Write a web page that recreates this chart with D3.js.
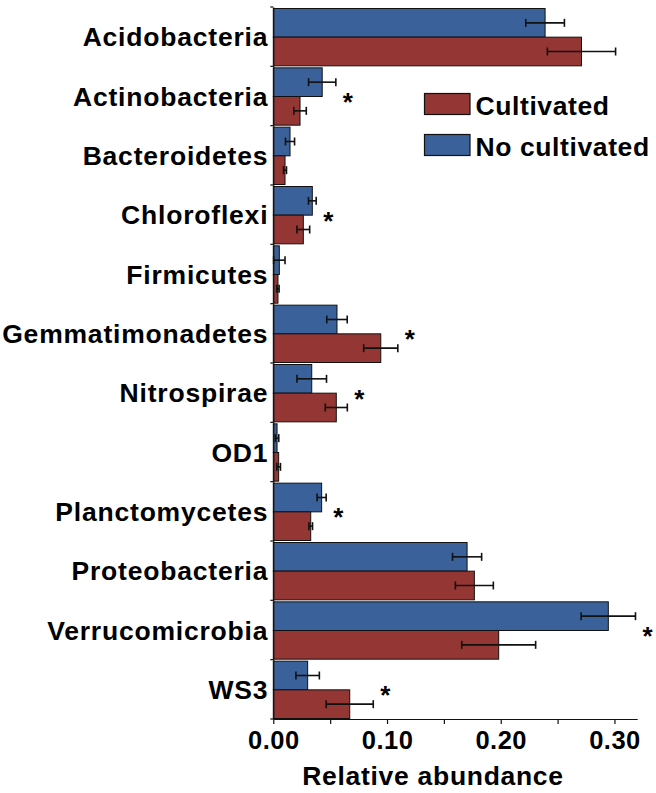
<!DOCTYPE html>
<html><head><meta charset="utf-8">
<script src="https://cdn.jsdelivr.net/npm/d3@7"></script>
<style>body{margin:0;background:#fff;} text{font-family:"Liberation Sans",Arial,sans-serif;font-weight:bold;}</style>
</head><body>
<svg id="chart" width="656" height="793"></svg>
<script>
const categories = ["Acidobacteria","Actinobacteria","Bacteroidetes","Chloroflexi","Firmicutes","Gemmatimonadetes","Nitrospirae","OD1","Planctomycetes","Proteobacteria","Verrucomicrobia","WS3"];
const noCultivated = [0.239,0.043,0.0147,0.0343,0.0053,0.056,0.0338,0.0033,0.0425,0.1704,0.2946,0.0302];
const noCultivatedErr = [0.017,0.012,0.004,0.0034,0.005,0.009,0.013,0.0015,0.004,0.0128,0.0239,0.0103];
const cultivated = [0.271,0.0235,0.0103,0.0264,0.0041,0.0945,0.0554,0.0047,0.0329,0.1768,0.1982,0.0672];
const cultivatedErr = [0.030,0.0055,0.0013,0.0056,0.001,0.015,0.0097,0.0016,0.0016,0.0167,0.0325,0.0207];
const significant = [false,true,false,true,false,true,true,false,true,false,true,true];
const tickValues = [0,0.05,0.10,0.15,0.20,0.25,0.30];
const tickLabels = ["0.00","","0.10","","0.20","","0.30"];
const seriesNames = ["Cultivated","No cultivated"];
const colors = {"No cultivated":"#3b619a","Cultivated":"#943634"};

const svg = d3.select("#chart");
const x = d3.scaleLinear().domain([0,0.32]).range([273.3, 637.2]);
const y = d3.scaleBand().domain(categories).range([7,719]).paddingInner(0).paddingOuter(0);
const sub = d3.scaleBand().domain(["No cultivated","Cultivated"]).range([1.5, y.bandwidth()-0.5]);

const rows = categories.map((c,i)=>({c,i,series:[
  {k:"No cultivated",v:noCultivated[i],e:noCultivatedErr[i]},
  {k:"Cultivated",v:cultivated[i],e:cultivatedErr[i]}]}));

const g = svg.append("g");
const grp = g.selectAll("g.cat").data(rows).join("g").attr("transform",d=>`translate(0,${y(d.c)})`);
grp.selectAll("rect").data(d=>d.series).join("rect")
  .attr("x",x(0)).attr("y",d=>sub(d.k)).attr("width",d=>x(d.v)-x(0)).attr("height",sub.bandwidth())
  .attr("fill",d=>colors[d.k]).attr("stroke","#111").attr("stroke-width",1);
// error bars
const eb = grp.selectAll("g.eb").data(d=>d.series).join("g").attr("class","eb")
  .attr("stroke","#111").attr("stroke-width",1.6);
eb.append("line").attr("x1",d=>x(d.v-d.e)).attr("x2",d=>x(d.v+d.e))
  .attr("y1",d=>sub(d.k)+sub.bandwidth()/2).attr("y2",d=>sub(d.k)+sub.bandwidth()/2);
eb.append("line").attr("x1",d=>x(d.v-d.e)).attr("x2",d=>x(d.v-d.e))
  .attr("y1",d=>sub(d.k)+sub.bandwidth()/2-4).attr("y2",d=>sub(d.k)+sub.bandwidth()/2+4);
eb.append("line").attr("x1",d=>x(d.v+d.e)).attr("x2",d=>x(d.v+d.e))
  .attr("y1",d=>sub(d.k)+sub.bandwidth()/2-4).attr("y2",d=>sub(d.k)+sub.bandwidth()/2+4);
// significance
grp.filter(d=>significant[d.i]).append("text")
  .attr("x",d=>x(Math.max(...d.series.map(s=>s.v+s.e)))+7)
  .attr("y",y.bandwidth()/2+15).attr("font-size",26).attr("fill","#000").text("*");

// y axis
const yAxis = d3.axisLeft(y).tickSize(0).tickPadding(5);
const ya = svg.append("g").attr("transform",`translate(${x(0)},0)`).call(yAxis);
ya.select(".domain").attr("stroke","#111").attr("stroke-width",1.2);
ya.selectAll("text").attr("font-size",26.5).attr("letter-spacing","0.8px").attr("font-family","'Liberation Sans',Arial,sans-serif").attr("font-weight","bold").attr("fill","#000").attr("dy","0.36em");
svg.append("g").selectAll("line").data(d3.range(categories.length+1)).join("line")
  .attr("x1",x(0)-3).attr("x2",x(0)).attr("y1",i=>7+i*y.step()).attr("y2",i=>7+i*y.step())
  .attr("stroke","#111").attr("stroke-width",1.2);

// x axis
const xAxis = d3.axisBottom(x).tickValues(tickValues).tickFormat((d,i)=>tickLabels[i]).tickSize(5).tickSizeOuter(0).tickPadding(7);
const xa = svg.append("g").attr("transform","translate(0,719)").call(xAxis);
xa.select(".domain").attr("stroke","#111").attr("stroke-width",1.2);
xa.selectAll(".tick line").attr("stroke","#111").attr("stroke-width",1.2);
xa.selectAll("text").attr("font-size",25.5).attr("letter-spacing","0.5px").attr("font-family","'Liberation Sans',Arial,sans-serif").attr("font-weight","bold").attr("fill","#000");
svg.append("text").attr("x",433).attr("y",785).attr("text-anchor","middle").attr("font-size",26.5).attr("letter-spacing","0.7px").attr("fill","#000").text("Relative abundance");

// legend
const leg = svg.append("g").attr("transform","translate(424.5,93.5)");
const li = leg.selectAll("g").data(seriesNames).join("g").attr("transform",(d,i)=>`translate(0,${i*41})`);
li.append("rect").attr("width",45.5).attr("height",21).attr("fill",d=>colors[d]).attr("stroke","#111").attr("stroke-width",1.2);
li.append("text").attr("x",51).attr("y",21.5).attr("font-size",26.5).attr("letter-spacing","0.6px").attr("fill","#000").text(d=>d);
</script>
</body></html>
